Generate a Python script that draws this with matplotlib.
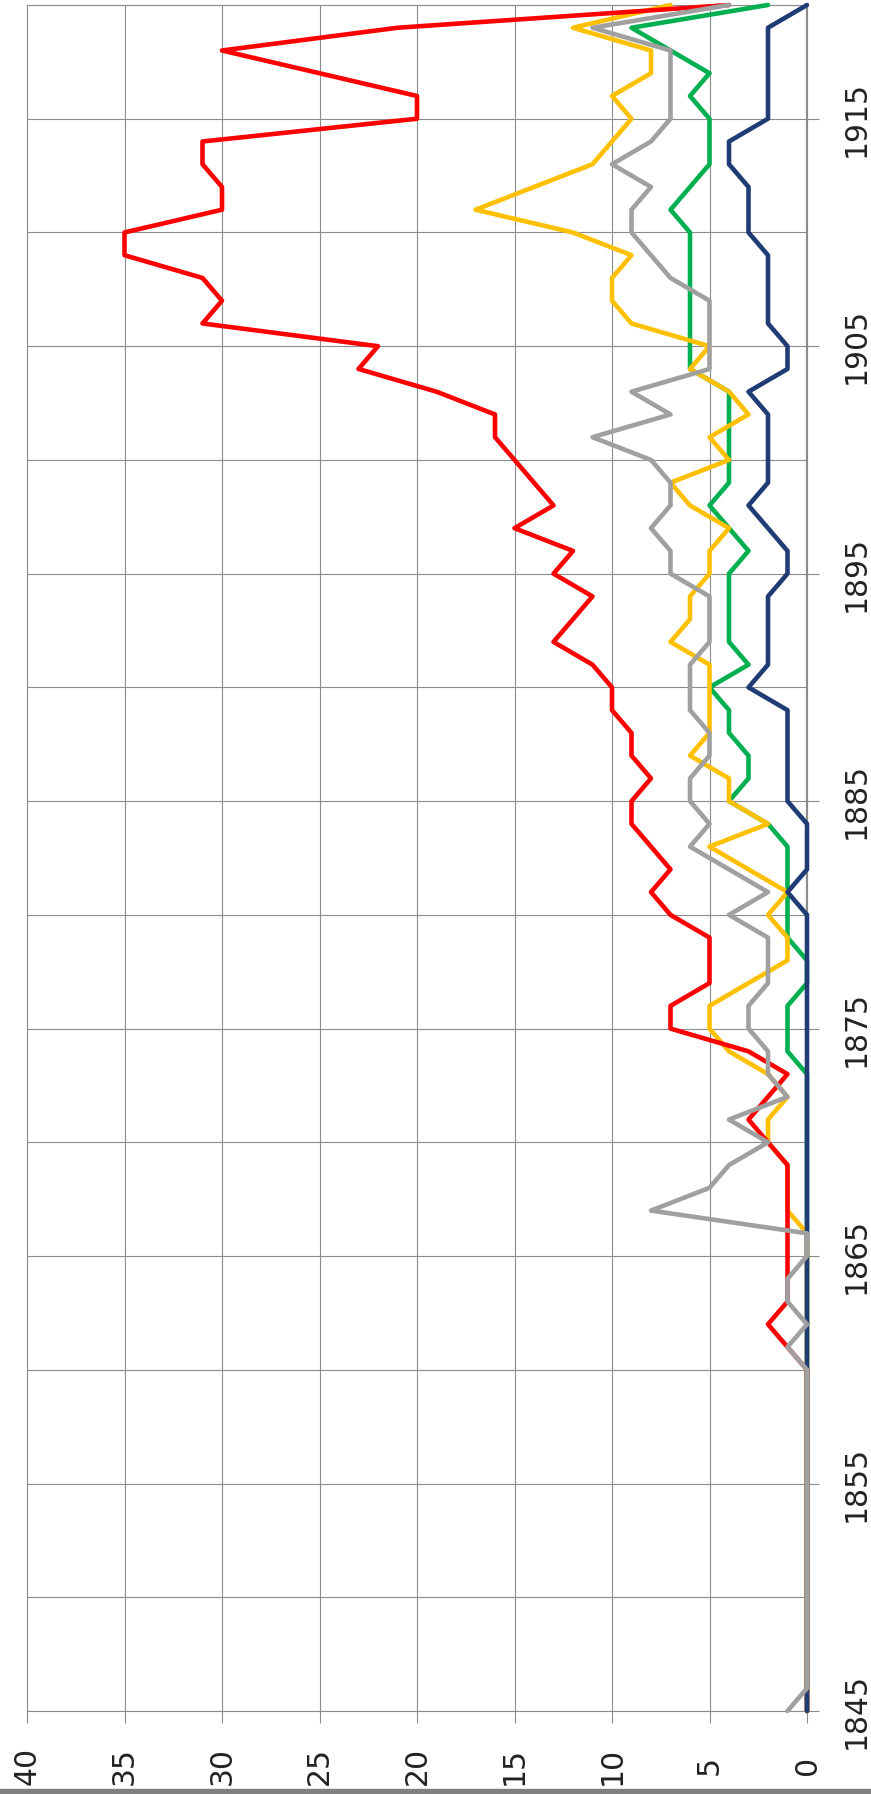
import matplotlib
matplotlib.use("Agg")
import matplotlib.pyplot as plt
from matplotlib.patches import Rectangle

# years on the category axis (drawn vertically, chart is turned on its side)
years = list(range(1845, 1921))

red = [0]*16 + [1, 2, 1, 1, 1, 1, 1, 1, 1, 2,
                3, 2, 1, 3, 7, 7, 5, 5, 5, 7,
                8, 7, 8, 9, 9, 8, 9, 9, 10, 10,
                11, 13, 12, 11, 13, 12, 15, 13, 14, 15,
                16, 16, 19, 23, 22, 31, 30, 31, 35, 35,
                30, 30, 31, 31, 20, 20, 25, 30, 21, 4]

yellow = [0]*22 + [1, 1, 1, 2, 2, 1, 2, 4, 5, 5,
                   3, 1, 1, 2, 1, 3, 5, 2, 4, 4,
                   6, 5, 5, 5, 5, 7, 6, 6, 5, 5,
                   4, 6, 7, 4, 5, 3, 4, 6, 5, 9,
                   10, 10, 9, 12, 17, 14, 11, 10, 9, 10,
                   8, 8, 12, 7]

gray = [1] + [0]*15 + [1, 0, 1, 1, 0, 0, 8, 5, 4, 2,
                       4, 1, 2, 2, 3, 3, 2, 2, 2, 4,
                       2, 4, 6, 5, 6, 6, 5, 5, 6, 6,
                       6, 5, 5, 5, 7, 7, 8, 7, 7, 8,
                       11, 7, 9, 5, 5, 5, 5, 7, 8, 9,
                       9, 8, 10, 8, 7, 7, 7, 7, 11, 4]

green = [0]*29 + [1, 1, 1, 0, 0, 1, 1, 1, 1, 1,
                  2, 4, 3, 3, 4, 4, 5, 3, 4, 4,
                  4, 4, 3, 4, 5, 4, 4, 4, 4, 4,
                  6, 6, 6, 6, 6, 6, 6, 7, 6, 5,
                  5, 5, 6, 5, 7, 9, 2]

blue = [0]*36 + [1, 0, 0, 0, 1, 1, 1, 1, 1, 3,
                 2, 2, 2, 2, 1, 1, 2, 3, 2, 2,
                 2, 2, 3, 1, 1, 2, 2, 2, 2, 3,
                 3, 3, 4, 4, 2, 2, 2, 2, 2, 0]

value_ticks = list(range(0, 41, 5))
year_ticks = list(range(1845, 1916, 10))
year_minor = list(range(1850, 1921, 10))

W, H = 871, 1794
fig = plt.figure(figsize=(W/100, H/100), dpi=100, facecolor='w')
ax = fig.add_axes([27/W, 1 - 1711/H, (807 - 27)/W, (1711 - 5)/H])

gridc = '#8c8c8c'
lw = 3.3
# drawing order: blue over the others at zero, gray on top of everything
series = [(green, '#00B050'), (yellow, '#FFC000'), (red, '#FF0000'),
          (blue, '#1F3C74'), (gray, '#A0A0A0')]
for vals, col in series:
    ax.plot(vals, years, color=col, lw=lw, solid_joinstyle='round',
            solid_capstyle='round', clip_on=False, zorder=3)

ax.set_xlim(40, 0)
ax.set_ylim(1845, 1920)
ax.set_xticks(value_ticks)
ax.set_xticklabels([str(v) for v in value_ticks])
ax.yaxis.tick_right()
ax.set_yticks(year_ticks)
ax.set_yticklabels([str(y) for y in year_ticks])
ax.set_yticks(year_minor, minor=True)

ax.grid(True, axis='x', which='major', color=gridc, lw=0.8, zorder=1)
ax.grid(True, axis='y', which='both', color=gridc, lw=0.8, zorder=1)
ax.set_axisbelow(True)

ax.tick_params(axis='x', which='major', direction='out', length=8.5, width=0.8,
               color=gridc, labelsize=21.5, labelcolor='#222222',
               labelrotation=90, pad=31)
ax.tick_params(axis='y', which='major', direction='out', length=8.6, width=0.8,
               color=gridc, labelsize=21.5, labelcolor='#222222',
               labelrotation=90, pad=16.5)
ax.tick_params(axis='y', which='minor', length=0)

for s in ax.spines.values():
    s.set_color(gridc)
    s.set_linewidth(0.8)
ax.spines['right'].set_linewidth(1.6)

for t in ax.get_xticklabels():
    t.set_va('center')
    t.set_ha('center')
for t in ax.get_yticklabels():
    t.set_va('center')
    t.set_ha('left')

# dark strip along the bottom edge of the picture
fig.patches.append(Rectangle((0, 0), 1, 5/H, transform=fig.transFigure,
                             color='#7f7f7f', zorder=0))

fig.savefig('out.png', dpi=100, facecolor='w')
